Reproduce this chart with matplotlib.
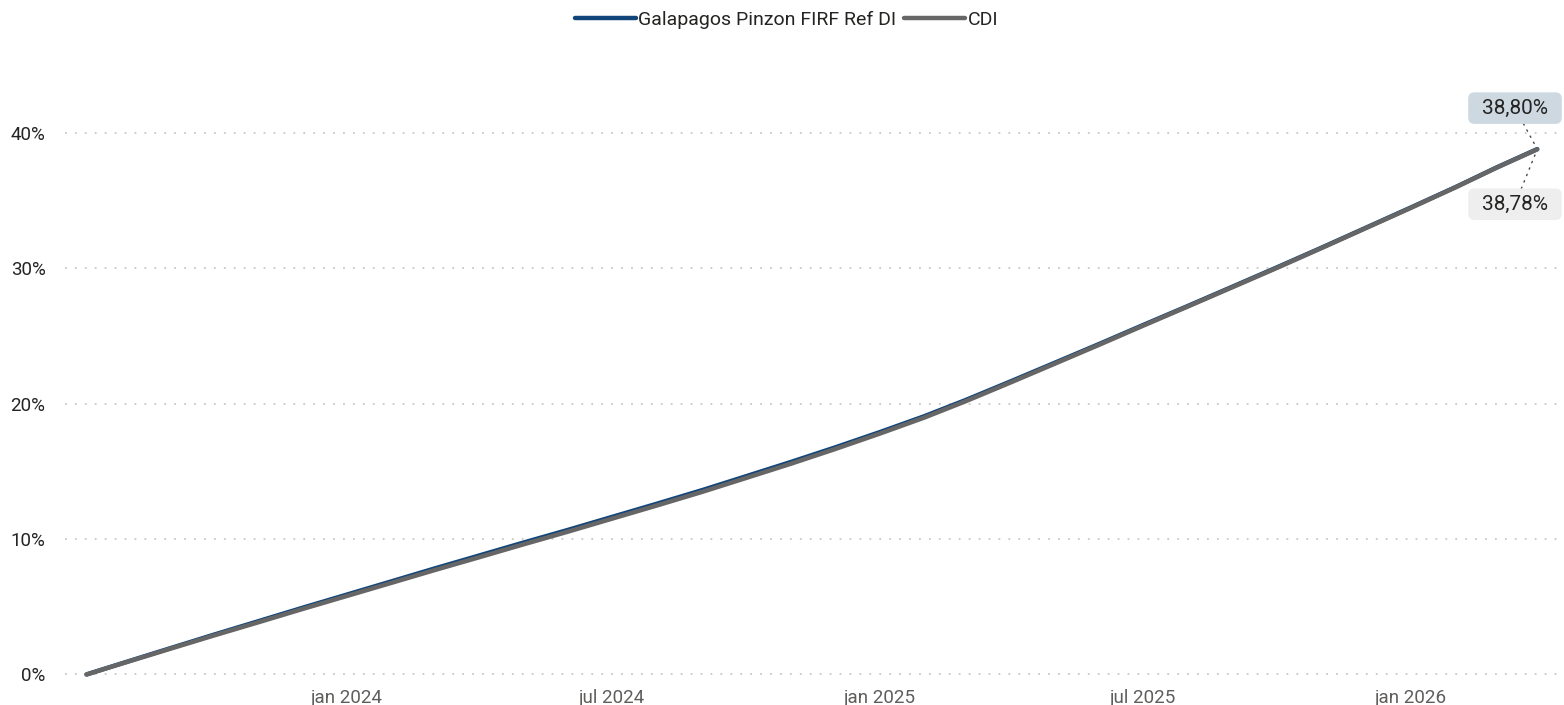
import pandas as pd
import matplotlib.pyplot as plt
from matplotlib.patches import BoxStyle
from matplotlib.ticker import FuncFormatter

# cumulative return (%), month starts
dates = pd.to_datetime([
    "2023-07-06", "2023-08-01", "2023-09-01", "2023-10-01", "2023-11-01", "2023-12-01",
    "2024-01-01", "2024-02-01", "2024-03-01", "2024-04-01", "2024-05-01", "2024-06-01",
    "2024-07-01", "2024-08-01", "2024-09-01", "2024-10-01", "2024-11-01", "2024-12-01",
    "2025-01-01", "2025-02-01", "2025-03-01", "2025-04-01", "2025-05-01", "2025-06-01",
    "2025-07-01", "2025-08-01", "2025-09-01", "2025-10-01", "2025-11-01", "2025-12-01",
    "2026-01-01", "2026-02-01", "2026-03-01", "2026-03-29",
])
cdi = [
    0.00, 0.86, 1.88, 2.86, 3.85, 4.82,
    5.80, 6.78, 7.70, 8.66, 9.60, 10.55,
    11.50, 12.48, 13.48, 14.50, 15.56, 16.63,
    17.78, 18.98, 20.17, 21.56, 22.93, 24.35,
    25.75, 27.18, 28.62, 30.02, 31.50, 32.95,
    34.45, 35.98, 37.42, 38.78,
]
fund = [
    0.00, 0.88, 1.92, 2.92, 3.93, 4.91,
    5.90, 6.89, 7.82, 8.79, 9.73, 10.68,
    11.63, 12.61, 13.61, 14.63, 15.69, 16.75,
    17.89, 19.08, 20.26, 21.64, 23.00, 24.41,
    25.80, 27.22, 28.66, 30.06, 31.53, 32.98,
    34.48, 36.00, 37.44, 38.80,
]
fund_name = "Galapagos Pinzon FIRF Ref DI"
bench_name = "CDI"
yticks = [0, 10, 20, 30, 40]
xtick_dates = pd.to_datetime(["2024-01-01", "2024-07-01", "2025-01-01", "2025-07-01", "2026-01-01"])
xtick_labels = ["jan 2024", "jul 2024", "jan 2025", "jul 2025", "jan 2026"]

FUND_COLOR = "#12467B"
CDI_COLOR = "#666666"

plt.rcParams["font.family"] = ["Roboto", "DejaVu Sans"]


def label_box(x0, y0, width, height, mutation_size):
    # wide, flat rounded box like the tooltip-style end labels
    px, py = 0.66 * mutation_size, 0.30 * mutation_size
    rnd = BoxStyle.Round(pad=0, rounding_size=0.3)
    return rnd(x0 - px, y0 - py, width + 2 * px, height + 2 * py, mutation_size)


fig = plt.figure(figsize=(15.64, 7.05), dpi=100)
ax = fig.add_axes([65 / 1564, 17 / 705, 1499 / 1564, 628 / 705])

ax.plot(dates, fund, color=FUND_COLOR, lw=3.2, label=fund_name, solid_capstyle="round")
ax.plot(dates, cdi, color=CDI_COLOR, lw=3.2, label=bench_name, solid_capstyle="round")

jan24 = pd.Timestamp("2024-01-01")
ax.set_xlim(jan24 + pd.Timedelta(days=-193.8), jan24 + pd.Timedelta(days=836.4))
ax.set_ylim(-1.0, 45.38)

ax.set_yticks(yticks)
ax.yaxis.set_major_formatter(FuncFormatter(lambda v, p: f"{v:.0f}%"))
ax.set_xticks(xtick_dates)
ax.set_xticklabels(xtick_labels)

ax.tick_params(axis="y", length=0, pad=14, labelsize=13.5, labelcolor="#252423")
ax.tick_params(axis="x", length=0, pad=1, labelsize=13.5, labelcolor="#605E5C")

ax.grid(axis="y", linestyle=(0, (1, 4.5)), color="#C8C8C8", lw=1.3)
ax.grid(axis="x", visible=False)
for s in ax.spines.values():
    s.set_visible(False)

# end labels
end_x = dates[-1]
ax.annotate(f"{fund[-1]:.2f}%".replace(".", ","), xy=(end_x, fund[-1]),
            xytext=(-16, 29.5), textcoords="offset points", ha="center", va="center",
            fontsize=15, color="#252423",
            bbox=dict(boxstyle=label_box, fc="#CDD8E0", ec="none"),
            arrowprops=dict(arrowstyle="-", linestyle=(0, (1, 4)), color="#444444", lw=1,
                            shrinkA=0, shrinkB=2))
ax.annotate(f"{cdi[-1]:.2f}%".replace(".", ","), xy=(end_x, cdi[-1]),
            xytext=(-16, -39.5), textcoords="offset points", ha="center", va="center",
            fontsize=15, color="#252423",
            bbox=dict(boxstyle=label_box, fc="#EEEEEE", ec="none"),
            arrowprops=dict(arrowstyle="-", linestyle=(0, (1, 4)), color="#444444", lw=1,
                            shrinkA=0, shrinkB=2))

fig.legend(loc="center", bbox_to_anchor=(0.503, 0.972), ncol=2, frameon=False,
           fontsize=14, handlelength=3.1, handletextpad=0.15, columnspacing=0.4,
           labelcolor="#252423")

fig.savefig("out.png", dpi=100)
